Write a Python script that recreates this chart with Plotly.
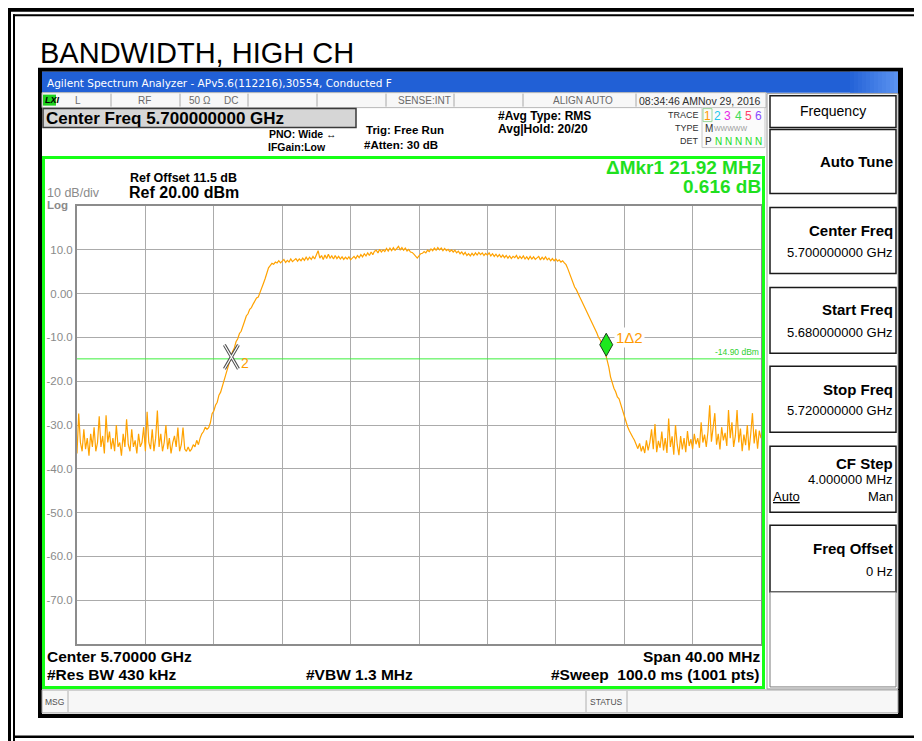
import numpy as np
import plotly.graph_objects as go

# ---------------- data ----------------
start_ghz = 5.68
stop_ghz = 5.72
ref_level_dbm = 20.0
bottom_level_dbm = -80.0
ytick_vals = [10, 0, -10, -20, -30, -40, -50, -60, -70]
ytick_text = ["10.0", "0.00", "-10.0", "-20.0", "-30.0", "-40.0", "-50.0", "-60.0", "-70.0"]

# trace 1 levels (dBm), read every 0.1 MHz across the 40 MHz span
levels_left_noise = [
    -36.5, -27.4, -34, -36, -31, -35.5, -33, -37, -32, -35,
    -30.5, -36, -34, -28, -35, -32.5, -36.5, -27.8, -34, -31.5,
    -35.5, -33, -36, -30, -35, -34, -37, -32, -35, -28.7,
    -34.5, -36, -31, -35, -33.5, -36.5, -32, -35, -34, -30.5,
    -36, -27, -34, -35.5, -31, -36, -33, -26.7, -35, -32,
    -36, -34, -30, -35.5, -33, -36.5, -34, -32.5, -35, -30.6,
    -36, -34.5, -30.6, -35.5, -36, -35, -36, -35.5, -34.5, -35,
    -33.5, -34.5, -33,
]
levels_rise = [
    -32, -31.5, -30.5, -31, -30.6, -29.5, -27.4, -26.8, -25.5, -24.8,
    -23.2, -22.5, -21, -19.8, -18.5, -17.2, -15.8, -15.0, -13.2, -12.4,
    -11, -10.3, -9.1, -8.6, -7.2, -6.3, -5.1, -4.6, -3.6, -3.2,
    -2.4, -1.8, -1.0, -0.8, 0.4, 1.2, 2.3, 3.4, 4.6, 5.9,
    6.4, 6.9, 6.7, 7.2,
]
levels_plateau = [
    7.0, 7.5, 7.0,
    7.4, 7.8, 7.1, 7.6, 7.2, 7.9, 7.3, 7.7, 8.0, 7.4,
    7.9, 7.5, 8.1, 7.6, 8.3, 7.7, 8.3, 7.8, 8.5, 7.9,
    8.7, 9.8, 8.1, 8.7, 7.8, 8.8, 8.0, 9.0, 8.1, 8.6,
    7.9, 8.7, 8.0, 8.5, 7.9, 8.4, 7.8, 8.3, 7.9, 8.4,
    7.7, 8.2, 8.5, 8.0, 8.7, 8.2, 8.9, 8.4, 9.1, 8.6,
    9.3, 8.7, 9.5, 8.9, 9.7, 9.9, 9.3, 10.1, 9.5, 10.0,
    9.6, 10.3, 9.7, 10.4, 9.8, 10.5, 9.9, 10.3, 10.8, 10.0,
    10.5, 9.9, 10.4, 9.7, 10.1, 9.5, 9.4, 9.0, 8.5, 8.1,
    8.6, 9.1, 9.2, 9.6, 9.3, 9.9, 9.6, 10.2, 9.8, 10.4,
    9.9, 10.5, 10.0, 10.4, 9.8, 10.3, 9.8, 10.1, 9.6, 10.0,
    9.5, 9.9, 9.3, 9.7, 9.1, 9.5, 8.9, 9.4, 8.7, 9.1,
    8.6, 9.2, 8.7, 9.3, 8.8, 9.4, 8.9, 9.3, 8.7, 9.2,
    8.8, 9.3, 8.6, 9.1, 8.5, 9.0, 8.4, 8.9, 8.3, 8.8,
    8.2, 8.7, 8.1, 8.6, 8.0, 8.5, 8.2, 8.7, 7.9, 8.5,
    8.0, 8.6, 7.9, 8.4, 7.8, 8.5, 7.9, 8.4, 7.8, 8.2,
    8.5, 7.7, 8.3, 7.8, 8.4, 7.7, 8.1, 7.5, 8.0, 7.5,
    7.9, 7.4, 7.7, 7.2, 7.5, 7.0,
]
levels_fall = [
    6.6, 5.7, 4.6, 3.6, 2.4, 1.5, 0.9, -0.1, -0.8, -1.6,
    -2.4, -3.1, -4.2, -5.0, -5.6, -6.6, -7.2, -8.1, -9.0, -10.0,
    -10.6, -11.6, -12.4, -13.6, -15.0, -16.8, -19.0, -20.4, -21.6, -22.4,
    -23.6, -24.0, -25.4, -26.2, -28.0, -29.4, -30.4, -31.3, -32.2, -32.8,
    -33.5, -34.6, -35.4,
]
levels_right_noise = [
    -34.2,
    -36.0, -34.8, -36.4, -33.5, -35.8, -34.0, -31.0, -35.5, -29.8, -36.2,
    -33.6, -35.2, -31.5, -35.8, -33.0, -36.4, -28.5, -35.0, -32.6, -36.8,
    -30.0, -34.5, -36.9, -32.5, -35.6, -33.0, -36.2, -31.4, -34.8, -33.2,
    -35.5, -32.0, -34.4, -33.0, -35.2, -29.4, -34.0, -32.2, -35.0, -31.5,
    -25.5, -33.8, -31.0, -27.3, -34.5, -32.0, -35.6, -30.5, -33.5, -31.8,
    -34.8, -26.6, -33.0, -29.4, -35.0, -32.5, -26.6, -34.0, -30.8, -36.0,
    -32.2, -34.6, -30.0, -35.8, -32.0, -27.3, -34.2, -31.0, -35.4, -31.3,
    -33.0,
]
levels = levels_left_noise + levels_rise + levels_plateau + levels_fall + levels_right_noise
freq_ghz = np.linspace(start_ghz, stop_ghz, len(levels))

display_line_dbm = -14.90
mkr2_freq_ghz = 5.68903
mkr_delta_mhz = 21.92
mkr_delta_db = 0.616
mkr1_freq_ghz = mkr2_freq_ghz + mkr_delta_mhz / 1000.0
mkr2_level = float(np.interp(mkr2_freq_ghz, freq_ghz, levels))
mkr1_level = float(np.interp(mkr1_freq_ghz, freq_ghz, levels))

# ---------------- geometry helpers (page pixels -> paper) ----------------
OFF = 8                      # default page margin around the plot div
WID, HEI = 922 - OFF, 741 - OFF
PL, PR, PT, PB = 77.0, 761.0, 205.5, 644.0   # plot area in page pixels
PW, PH = PR - PL, PB - PT
SANS = "Liberation Sans"

def X(px):
    return (px - PL) / PW

def Y(py):
    return (PB - py) / PH

shapes = []
anns = []

def rect(x0, y0, x1, y1, fill=None, line=None, lw=1.0, layer="below"):
    shapes.append(dict(type="rect", xref="paper", yref="paper",
                       x0=X(x0), x1=X(x1), y0=Y(y1), y1=Y(y0),
                       fillcolor=fill if fill else "rgba(0,0,0,0)",
                       line=dict(color=line if line else "rgba(0,0,0,0)", width=lw if line else 0),
                       layer=layer))

def vline(x, y0, y1, color, lw=1.0, layer="below"):
    shapes.append(dict(type="line", xref="paper", yref="paper", x0=X(x), x1=X(x), y0=Y(y0), y1=Y(y1),
                       line=dict(color=color, width=lw), layer=layer))

def txt(text, x, y, size, color="#000000", bold=False, xa="left", family=SANS, bg=None):
    if bold:
        text = "<b>" + text + "</b>"
    d = dict(text=text, x=X(x), y=Y(y), xref="paper", yref="paper", xanchor=xa, yanchor="middle",
             showarrow=False, font=dict(size=size, color=color, family=family), borderpad=0)
    if bg:
        d["bgcolor"] = bg
    anns.append(d)

# ---------------- outer document frame ----------------
rect(7, 6, 930, 11, fill="#000000")
rect(13, 13.5, 930, 15.5, fill="#000000")
rect(7, 6, 11, 745, fill="#000000")
rect(13, 13.5, 15, 745, fill="#000000")
rect(13, 735.5, 930, 738, fill="#000000")

txt("BANDWIDTH, HIGH CH", 39, 52, 29)

# ---------------- analyzer window ----------------
rect(38, 67, 903, 718, fill="#000000")
rect(42, 71, 898, 714, fill="#ffffff")
# title bar with a light fade at its right end
rect(42, 71, 898, 92, fill="#2160d6")
for k in range(12):
    r = int(0x21 + (0x5a - 0x21) * (k + 1) / 12)
    g = int(0x60 + (0x92 - 0x60) * (k + 1) / 12)
    b = int(0xd6 + (0xf0 - 0xd6) * (k + 1) / 12)
    rect(850 + k * 4, 71, 854 + k * 4, 92, fill="#%02x%02x%02x" % (r, g, b))
txt("Agilent Spectrum Analyzer - APv5.6(112216),30554, Conducted F", 46, 82, 10.5,
    color="#ffffff", family="DejaVu Sans")

# status row
rect(42, 92, 766, 107, fill="#f7f7f7", line="#b8b8b8", lw=1)
for xd in [111, 180, 248, 317, 386, 454, 523, 636]:
    vline(xd, 93, 106, "#a8a8a8", 1)
rect(43, 94, 56, 105, fill="#1fd01f")
txt("<i>LXI</i>", 43.5, 99.5, 9, bold=True)
grey = "#6a6a6a"
txt("L", 78, 100, 10, color=grey, xa="center")
txt("RF", 144, 100, 10, color=grey, xa="center")
txt("50 Ω", 200, 100, 10, color=grey, xa="center")
txt("DC", 231, 100, 10, color=grey, xa="center")
txt("SENSE:INT", 452, 100, 10, color=grey, xa="right")
txt("ALIGN AUTO", 583, 100, 10, color=grey, xa="center")
txt("08:34:46 AMNov 29, 2016", 638, 100, 10.5, color="#303030")

# center freq box
rect(43, 108, 356, 127, fill="#d6d6d6", line="#3a3a3a", lw=1.5)
txt("Center Freq 5.700000000 GHz", 45, 118, 17, bold=True)
txt("PNO: Wide ↔", 268, 133, 10.5, bold=True)
txt("IFGain:Low", 267, 146, 10.5, bold=True)
txt("Trig: Free Run", 365, 129, 11.5, bold=True)
txt("#Atten: 30 dB", 363, 144, 11.5, bold=True)
txt("#Avg Type: RMS", 497, 115, 12, bold=True)
txt("Avg|Hold: 20/20", 497, 128, 12, bold=True)

# trace table
txt("TRACE", 700, 114, 9, color="#303030", xa="right")
txt("TYPE", 700, 127, 9, color="#303030", xa="right")
txt("DET", 700, 140, 9, color="#303030", xa="right")
rect(702, 107, 765, 147, fill="#fbfbfb", line="#c8c8c8", lw=1)
rect(703, 108, 712, 121, line="#9ad89a", lw=1)
trace_cols = ["#ff9a00", "#22c8ee", "#e628e6", "#3fdc5a", "#ff3f6a", "#8a4bff"]
for i, c in enumerate(trace_cols):
    txt(str(i + 1), 707.5 + i * 10.2, 115, 12, color=c, xa="center")
txt("M", 704, 128, 10, color="#303030")
txt("WWWWW", 713, 128, 7, color="#9a9a9a")
txt("P", 704, 141, 10, color="#303030")
txt("N N N N N", 714, 141, 10, color="#22dd22")

# ---------------- green display frame ----------------
rect(43.5, 157, 763.5, 687.5, line="#16ff16", lw=3, layer="above")
txt("Ref Offset 11.5 dB", 129, 177, 12.5, bold=True)
txt("Ref 20.00 dBm", 128, 192, 16, bold=True)
txt("10 dB/div", 46, 192, 12.5, color="#8a8a8a")
txt("Log", 46, 204, 11.5, color="#8a8a8a", bold=True)
txt("ΔMkr1 21.92 MHz", 762, 167, 19, color="#1fe01f", bold=True, xa="right")
txt("0.616 dB", 762, 186, 19, color="#1fe01f", bold=True, xa="right")

txt("Center 5.70000 GHz", 46, 657, 15.5, bold=True)
txt("#Res BW 430 kHz", 46, 675, 15.5, bold=True)
txt("#VBW 1.3 MHz", 305, 675, 15.5, bold=True)
txt("Span 40.00 MHz", 761, 657, 15.5, bold=True, xa="right")
txt("#Sweep  100.0 ms (1001 pts)", 761, 675, 15.5, bold=True, xa="right")

# message bar
rect(42, 690, 898, 713, fill="#f7f7f7", line="#a0a0a0", lw=1)
vline(68, 691, 712, "#b0b0b0", 1)
vline(586, 691, 712, "#b0b0b0", 1)
vline(627, 691, 712, "#b0b0b0", 1)
txt("MSG", 44, 702, 8.5, color="#505050")
txt("STATUS", 606.5, 702, 8.5, color="#505050", xa="center")

# ---------------- softkey panel ----------------
rect(767, 93, 898, 689, fill="#ffffff", line="#9a9a9a", lw=1)
buttons = [(95, 127), (129, 193), (207, 273), (287, 353), (366, 432), (446, 512), (525, 592)]
for (y0, y1) in buttons:
    rect(770, y0, 896, y1, fill="#ffffff", line="#1a1a1a", lw=1.5)
rect(770, 592, 896, 687, fill="#ffffff", line="#7a7a7a", lw=1)
txt("Frequency", 833, 110, 14, xa="center")
txt("Auto Tune", 894, 161, 15, bold=True, xa="right")
txt("Center Freq", 894, 230, 15, bold=True, xa="right")
txt("5.700000000 GHz", 894, 252, 13, xa="right")
txt("Start Freq", 894, 309, 15, bold=True, xa="right")
txt("5.680000000 GHz", 894, 332, 13, xa="right")
txt("Stop Freq", 894, 389, 15, bold=True, xa="right")
txt("5.720000000 GHz", 894, 410, 13, xa="right")
txt("CF Step", 894, 463, 15, bold=True, xa="right")
txt("4.000000 MHz", 894, 479, 13, xa="right")
txt("<u>Auto</u>", 772, 496, 13)
txt("Man", 894, 496, 13, xa="right")
txt("Freq Offset", 894, 548, 15, bold=True, xa="right")
txt("0 Hz", 894, 571, 13, xa="right")

# ---------------- display line and markers (data coords) ----------------
shapes.append(dict(type="line", xref="paper", yref="y", x0=0, x1=1, y0=display_line_dbm, y1=display_line_dbm,
                   line=dict(color="#3cf03c", width=1), layer="above"))
txt("-14.90 dBm", 760, 352, 8.5, color="#2fd02f", xa="right")

# marker 2 : outlined X
for col, w in [("#505050", 3.2), ("#ffffff", 1.2)]:
    shapes.append(dict(type="path", xref="x", yref="y", xsizemode="pixel", ysizemode="pixel",
                       xanchor=mkr2_freq_ghz, yanchor=mkr2_level,
                       path="M -7 -12 L 7 12 M -7 12 L 7 -12",
                       line=dict(color=col, width=w), layer="above"))
# marker 1 : green diamond sitting on the trace
shapes.append(dict(type="path", xref="x", yref="y", xsizemode="pixel", ysizemode="pixel",
                   xanchor=mkr1_freq_ghz, yanchor=mkr1_level,
                   path="M 0 0 L 6.5 11.5 L 0 23 L -6.5 11.5 Z",
                   fillcolor="#1ee81e", line=dict(color="#1e3a1e", width=1), layer="above"))
anns.append(dict(text="2", x=mkr2_freq_ghz, y=mkr2_level, xref="x", yref="y", xanchor="left", yanchor="middle",
                 xshift=8, yshift=-6, showarrow=False, font=dict(size=14, color="#ff9a00", family=SANS)))
anns.append(dict(text="1Δ2", x=mkr1_freq_ghz, y=mkr1_level, xref="x", yref="y", xanchor="left", yanchor="middle",
                 xshift=8, yshift=19, showarrow=False, bgcolor="#ffffff", borderpad=1,
                 font=dict(size=15, color="#ff9a00", family=SANS)))

# ---------------- figure ----------------
fig = go.Figure()
fig.add_trace(go.Scatter(x=freq_ghz, y=levels, mode="lines",
                         line=dict(color="#ffa200", width=1.2), hoverinfo="skip", showlegend=False))

grid_x = np.linspace(start_ghz, stop_ghz, 11)
fig.update_layout(
    width=WID, height=HEI, autosize=False,
    margin=dict(l=PL - OFF, r=WID - (PR - OFF), t=PT - OFF, b=HEI - (PB - OFF), pad=0),
    paper_bgcolor="#ffffff", plot_bgcolor="rgba(0,0,0,0)",
    showlegend=False,
    shapes=shapes, annotations=anns,
    xaxis=dict(range=[start_ghz, stop_ghz], tickvals=list(grid_x), showticklabels=False, ticks="",
               showgrid=True, gridcolor="#ababab", gridwidth=1, zeroline=False,
               showline=True, linecolor="#8c8c8c", linewidth=2, mirror=True, fixedrange=True),
    yaxis=dict(range=[bottom_level_dbm, ref_level_dbm], tickvals=ytick_vals, ticktext=ytick_text,
               ticks="", tickfont=dict(size=11.5, color="#8a8a8a", family=SANS),
               showgrid=True, gridcolor="#ababab", gridwidth=1, zeroline=False,
               showline=True, linecolor="#8c8c8c", linewidth=2, mirror=True, fixedrange=True),
)

fig.write_html("out.html")
